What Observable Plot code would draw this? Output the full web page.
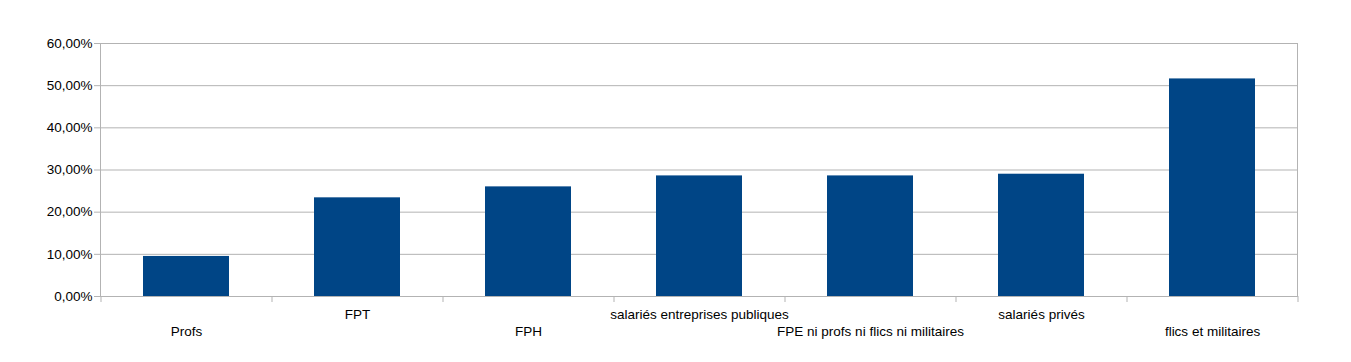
<!DOCTYPE html>
<html>
<head>
<meta charset="utf-8">
<script src="https://cdn.jsdelivr.net/npm/d3@7"></script>
<script src="https://cdn.jsdelivr.net/npm/@observablehq/plot@0.6"></script>
<style>
  html, body { margin: 0; padding: 0; background: #fff; }
  svg { display: block; }
</style>
</head>
<body>
<div id="chart"></div>
<script>
const categories = ["Profs", "FPT", "FPH", "salariés entreprises publiques", "FPE ni profs ni flics ni militaires", "salariés privés", "flics et militaires"];
const values = [0.095, 0.234, 0.260, 0.286, 0.286, 0.290, 0.516];
const yTicks = [0, 0.1, 0.2, 0.3, 0.4, 0.5, 0.6];

const data = categories.map((c, i) => ({category: c, value: values[i], row: i % 2}));
const fmt = d => (d * 100).toFixed(2).replace(".", ",") + "%";
const grid = "#b3b3b3";
const W = 1351, H = 362, mL = 100, mR = 54;
const step = (W - mL - mR) / categories.length;

const chart = Plot.plot({
  width: W,
  height: H,
  marginLeft: mL,
  marginRight: mR,
  marginTop: 43,
  marginBottom: 66,
  style: {fontFamily: "'Liberation Sans', Arial, sans-serif", fontSize: "13.5px", color: "#000", background: "#fff"},
  x: {domain: categories, paddingInner: 0.5, paddingOuter: 0.25, axis: null, label: null},
  y: {domain: [0, 0.6], axis: null, label: null},
  marks: [
    Plot.ruleY(yTicks, {stroke: grid, strokeOpacity: 1}),
    Plot.frame({stroke: grid}),
    Plot.axisY({ticks: yTicks, tickFormat: fmt, tickSize: 6, tickPadding: 2, stroke: grid, strokeOpacity: 1, fill: "#000", fontSize: "13.5px", label: null}),
    Plot.axisX({text: null, tickSize: 6, dx: -step / 2, stroke: grid, strokeOpacity: 1, label: null}),
    Plot.axisX(categories.slice(-1), {text: null, tickSize: 6, dx: step / 2, stroke: grid, strokeOpacity: 1, label: null}),
    Plot.barY(data, {x: "category", y: "value", fill: "#004586"}),
    Plot.text(data.filter(d => d.row === 0), {x: "category", text: "category", frameAnchor: "bottom", lineAnchor: "middle", dy: 35, fill: "#000"}),
    Plot.text(data.filter(d => d.row === 1), {x: "category", text: "category", frameAnchor: "bottom", lineAnchor: "middle", dy: 18, fill: "#000"})
  ]
});
document.getElementById("chart").appendChild(chart);
</script>
</body>
</html>
